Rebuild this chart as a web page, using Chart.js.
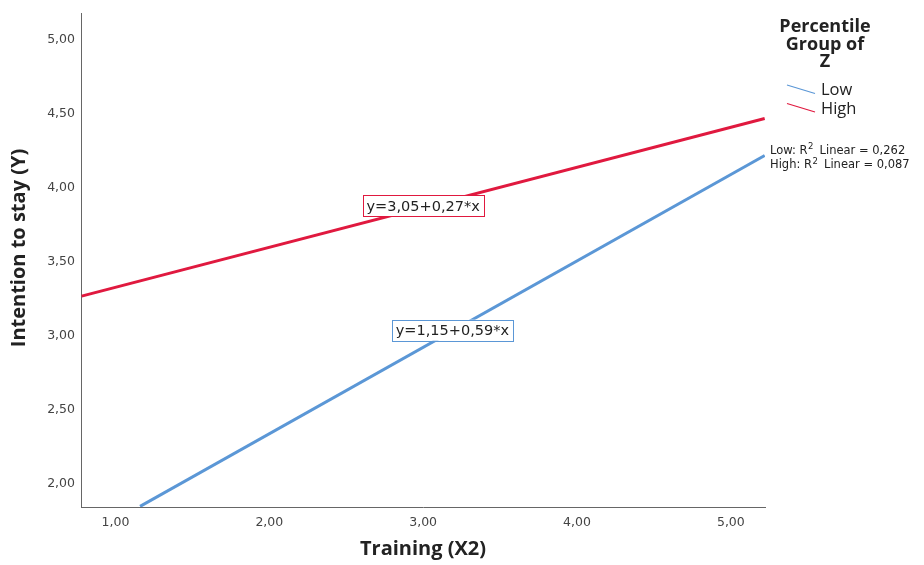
<!DOCTYPE html>
<html>
<head>
<meta charset="utf-8">
<script src="https://cdn.jsdelivr.net/npm/chart.js@4.4.1/dist/chart.umd.min.js"></script>
<style>
    body { margin: 0; background: #fff; }
    canvas { display: block; }
</style>
</head>
<body>
<canvas id="fitChart" width="924" height="565"></canvas>
<script>
// Data
const groups = ['Low', 'High'];
const lowX = [1.16, 5.22];
const lowY = [1.85, 4.22];
const highX = [0.78, 5.22];
const highY = [3.27, 4.47];
const fitEquations = ['y=1,15+0,59*x', 'y=3,05+0,27*x'];
const r2Values = ['0,262', '0,087'];
const eqAnchorX = [3.19, 3.0];
const eqAnchorY = [3.04, 3.88];
const xTicks = [1, 2, 3, 4, 5];
const yTicks = [2, 2.5, 3, 3.5, 4, 4.5, 5];

const BLUE = '#5b97d6';
const RED = '#e0193f';
const TEXT = '#222';

const toPoints = (xs, ys) => xs.map((x, i) => ({ x: x, y: ys[i] }));
const fmt = v => v.toFixed(2).replace('.', ',');

// Draws the fit equation boxes, legend, R² notes and the y title
const annotations = {
    id: 'annotations',
    afterDraw(chart) {
        const ctx = chart.ctx;
        const xs = chart.scales.x;
        const ys = chart.scales.y;
        const area = chart.chartArea;
        const colors = [BLUE, RED];
        ctx.save();

        // equation boxes on the lines
        ctx.font = '14.5px "DejaVu Sans"';
        ctx.textAlign = 'center';
        ctx.textBaseline = 'middle';
        fitEquations.forEach((txt, i) => {
            const cx = xs.getPixelForValue(eqAnchorX[i]);
            const cy = ys.getPixelForValue(eqAnchorY[i]);
            const w = ctx.measureText(txt).width + 8;
            const h = 21;
            ctx.fillStyle = '#fff';
            ctx.fillRect(cx - w / 2, cy - h / 2, w, h);
            ctx.strokeStyle = colors[i];
            ctx.lineWidth = 1;
            ctx.strokeRect(Math.round(cx - w / 2) + 0.5, Math.round(cy - h / 2) + 0.5, Math.round(w), h);
            ctx.fillStyle = TEXT;
            ctx.fillText(txt, cx, cy + 1);
        });

        // legend
        const lx = area.right + 22;
        ctx.fillStyle = TEXT;
        ctx.font = 'bold 18px "Open Sans"';
        ['Percentile', 'Group of', 'Z'].forEach((t, i) => {
            ctx.fillText(t, area.right + 60, 27 + i * 17.5);
        });
        ctx.font = '16.5px "Open Sans"';
        ctx.textAlign = 'left';
        groups.forEach((g, i) => {
            const y0 = 85 + i * 18.5;
            ctx.strokeStyle = colors[i];
            ctx.lineWidth = 1.2;
            ctx.beginPath();
            ctx.moveTo(lx, y0);
            ctx.lineTo(lx + 28, y0 + 8.5);
            ctx.stroke();
            ctx.fillStyle = TEXT;
            ctx.fillText(g, lx + 34, y0 + 5.5);
        });

        // R² notes
        groups.forEach((g, i) => {
            const y0 = 151 + i * 14.5;
            let x0 = area.right + 5;
            ctx.font = '11.5px "DejaVu Sans"';
            const head = g + ': R';
            ctx.fillText(head, x0, y0);
            x0 += ctx.measureText(head).width;
            ctx.font = '8.5px "DejaVu Sans"';
            ctx.fillText('2', x0 + 0.5, y0 - 4);
            x0 += ctx.measureText('2').width + 1;
            ctx.font = '11.5px "DejaVu Sans"';
            ctx.fillText(' Linear = ' + r2Values[i], x0 + 2, y0);
        });

        // y axis title
        ctx.font = 'bold 20px "Open Sans"';
        ctx.textAlign = 'center';
        ctx.translate(19, 248);
        ctx.rotate(-Math.PI / 2);
        ctx.fillText('Intention to stay (Y)', 0, 0);
        ctx.restore();
    }
};

new Chart(document.getElementById('fitChart'), {
    type: 'scatter',
    data: {
        datasets: [
            {
                label: groups[0],
                data: toPoints(lowX, lowY),
                showLine: true,
                borderColor: BLUE,
                borderWidth: 3,
                pointRadius: 0
            },
            {
                label: groups[1],
                data: toPoints(highX, highY),
                showLine: true,
                borderColor: RED,
                borderWidth: 3,
                pointRadius: 0
            }
        ]
    },
    options: {
        responsive: false,
        animation: false,
        layout: { padding: { top: 10, right: 159, left: 0, bottom: 0 } },
        plugins: {
            legend: { display: false },
            tooltip: { enabled: false }
        },
        scales: {
            x: {
                type: 'linear',
                min: 0.776,
                max: 5.222,
                afterBuildTicks: axis => { axis.ticks = xTicks.map(v => ({ value: v })); },
                afterFit: axis => { axis.height = 58; },
                grid: { display: false, drawTicks: false },
                border: { display: true, color: '#666', width: 1 },
                ticks: {
                    padding: 8,
                    maxRotation: 0,
                    color: '#444',
                    font: { family: 'DejaVu Sans', size: 12.5 },
                    callback: v => fmt(v)
                },
                title: {
                    display: true,
                    text: 'Training (X2)',
                    color: TEXT,
                    font: { family: 'Open Sans', size: 20, weight: 'bold' },
                    padding: { top: 13 }
                }
            },
            y: {
                type: 'linear',
                min: 1.846,
                max: 5.179,
                afterBuildTicks: axis => { axis.ticks = yTicks.map(v => ({ value: v })); },
                afterFit: axis => { axis.width = 81; },
                grid: { display: false, drawTicks: false },
                border: { display: true, color: '#666', width: 1 },
                ticks: {
                    padding: 6,
                    color: '#444',
                    font: { family: 'DejaVu Sans', size: 12.5 },
                    callback: v => fmt(v)
                }
            }
        }
    },
    plugins: [annotations]
});
</script>
</body>
</html>
